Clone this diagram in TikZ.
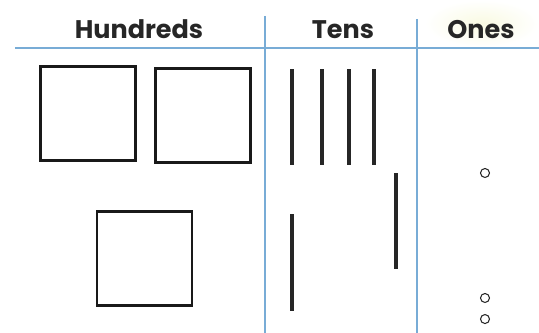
\documentclass[tikz,border=0pt]{standalone}
\usepackage{fontspec}
\setsansfont{Poppins}
\usetikzlibrary{positioning}
\usepackage{xcolor}
\definecolor{gridblue}{RGB}{120,172,214}
\definecolor{glow}{RGB}{249,250,226}

\begin{document}
\begin{tikzpicture}[x=0.02cm, y=-0.02cm,
  flat/.style={rectangle, draw=black!90, line width=1.6pt, minimum width=1.9cm,
    minimum height=1.88cm, inner sep=0pt},
  rod/.style={rectangle, fill=black!85, minimum width=0.08cm, minimum height=1.94cm,
    inner sep=0pt},
  unit/.style={circle, draw=black!85, line width=0.6pt, minimum size=0.18cm, inner sep=0pt},
  head/.style={anchor=base, text=black!85, font=\sffamily\bfseries\fontsize{14.5}{16}\selectfont},
  gridline/.style={draw=gridblue, line width=0.8pt}
]
\useasboundingbox (0,0) rectangle (539,333);

% header glow behind Ones
\shade[inner color=glow, outer color=white] (425,0) rectangle (539,47);

% place value grid
\draw[gridline] (15,48) -- (539,48);
\draw[gridline] (265,16) -- (265,333);
\draw[gridline] (417,19) -- (417,333);

\node[head] (hundreds) at (139,39) {Hundreds};
\node[head] (tens) at (343,39) {Tens};
\node[head] (ones) at (481,39) {Ones};

% hundreds
\node[flat] (flat1) at (88,113.5) {};
\node[flat, right=0.34cm of flat1, yshift=-0.04cm] (flat2) {};
\node[flat] (flat3) at (144.5,258.5) {};

% tens
\foreach \x [count=\i] in {292,322,349,374}
  \node[rod] (rod\i) at (\x,117) {};
\node[rod] (rod5) at (396,221) {};
\node[rod] (rod6) at (292,262.5) {};

% ones
\node[unit] (one1) at (485,173) {};
\node[unit] (one2) at (485,298) {};
\node[unit, below=0.22cm of one2] (one3) {};

\end{tikzpicture}
\end{document}
